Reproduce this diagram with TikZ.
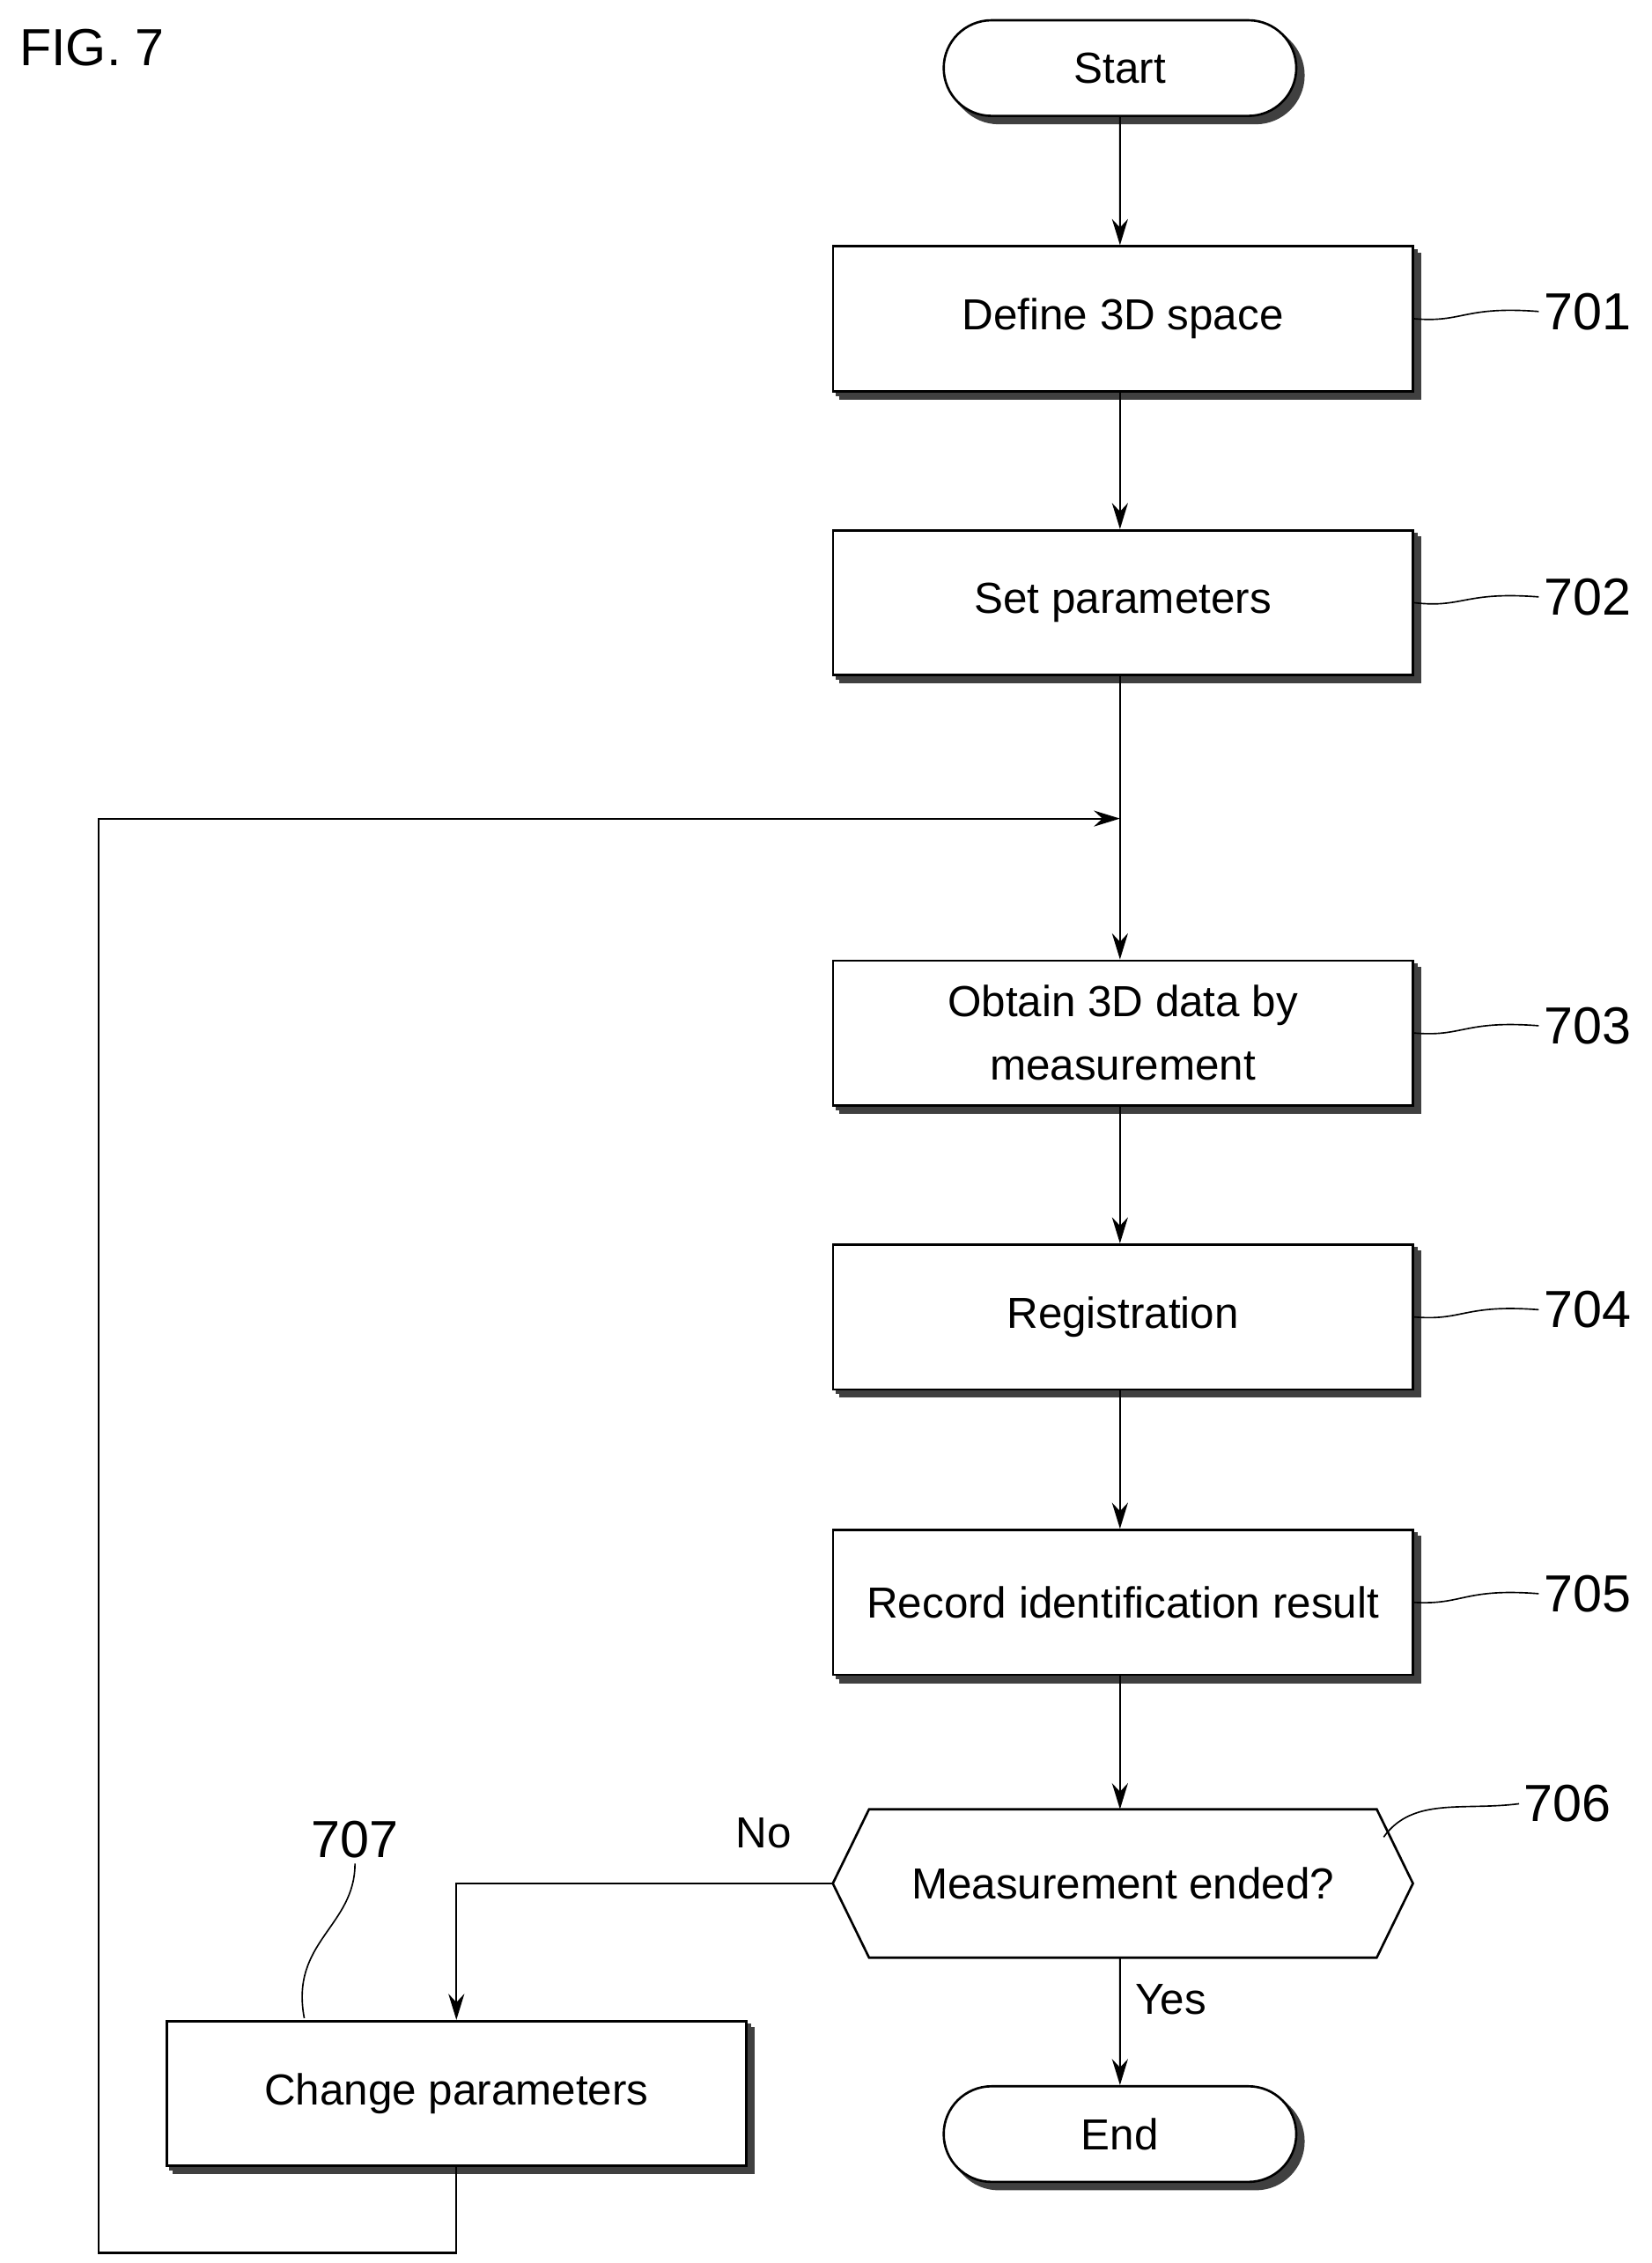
\documentclass[tikz,border=0pt]{standalone}
\usepackage{fontspec}
\setmainfont{Liberation Sans}
\usetikzlibrary{shapes.geometric,shapes.misc,arrows.meta,shadows}
\begin{document}
\begin{tikzpicture}[x=1pt,y=-1pt,
  txt/.style={font=\fontsize{30}{44}\selectfont},
  box/.style={draw,line width=1.6pt,fill=white,minimum width=400pt,minimum height=100pt,align=center,txt,
    double copy shadow={shadow xshift=2.5pt,shadow yshift=-2.5pt,draw=black!75,fill=black!75}},
  term/.style={draw,line width=1.6pt,fill=white,rounded rectangle,minimum width=250pt,minimum height=66pt,txt,
    double copy shadow={shadow xshift=2.5pt,shadow yshift=-2.5pt,draw=black!75,fill=black!75}},
  ln/.style={line width=1.3pt},
  arr/.style={ln,-{Stealth[length=18pt,width=11pt]}},
  lbl/.style={font=\fontsize{36}{42}\selectfont},
  lead/.style={line width=1pt}]
\useasboundingbox (0,0) rectangle (1140,1562);
\node[lbl,anchor=west] (fig) at (10,33) {FIG. 7};
\node[term] (start) at (773,47) {Start};
\node[box] (b1) at (775,220) {Define 3D space};
\node[box] (b2) at (775,416) {Set parameters};
\node[box] (b3) at (775,713) {Obtain 3D data by\\measurement};
\node[box] (b4) at (775,909) {Registration};
\node[box] (b5) at (775,1106) {Record identification result};
\node[minimum width=400pt,minimum height=102pt,txt] (d) at (775,1300) {};
\fill[black!75,xshift=2.5pt,yshift=2.5pt] (d.west) -- ([xshift=25pt]d.north west) -- ([xshift=-25pt]d.north east) -- (d.east) -- ([xshift=-25pt]d.south east) -- ([xshift=25pt]d.south west) -- cycle;
\draw[line width=1.6pt,fill=white] (d.west) -- ([xshift=25pt]d.north west) -- ([xshift=-25pt]d.north east) -- (d.east) -- ([xshift=-25pt]d.south east) -- ([xshift=25pt]d.south west) -- cycle;
\node[txt] at (d) {Measurement ended?};
\node[term] (end) at (773,1473) {End};
\node[box] (b7) at (315,1445) {Change parameters};
\coordinate (j) at (773,565);
\draw[arr] (start) -- (start|-b1.north);
\draw[arr] (b1.south-|start) -- (start|-b2.north);
\draw[ln] (b2.south-|start) -- (j);
\draw[arr] (j) -- (start|-b3.north);
\draw[arr] (b3.south-|start) -- (start|-b4.north);
\draw[arr] (b4.south-|start) -- (start|-b5.north);
\draw[arr] (b5.south-|start) -- (start|-d.north);
\draw[arr] (d.south-|start) -- (end);
\draw[arr] (d.west) -| (b7.north);
\draw[arr] (b7.south) -- (315,1555) -- (68,1555) -- (68,565) -- (j);
\node[txt] (no) at (527,1265) {No};
\node[txt] (yes) at (808,1380) {Yes};
\foreach \n/\y/\t in {b1/215/701,b2/412/702,b3/708/703,b4/904/704,b5/1100/705}{
  \node[lbl,anchor=west] (l\t) at (1062,\y) {\t};
  \draw[lead] (\n.east) .. controls (1010,\y+8) and (1010,\y-4) .. (l\t.west);
}
\node[lbl] (l706) at (1082,1245) {706};
\draw[lead] (955,1268) .. controls (975,1240) and (1010,1250) .. (l706.west);
\node[lbl] (l707) at (245,1270) {707};
\draw[lead] (210,1393) .. controls (200,1340) and (245,1330) .. (l707.south);
\end{tikzpicture}
\end{document}
